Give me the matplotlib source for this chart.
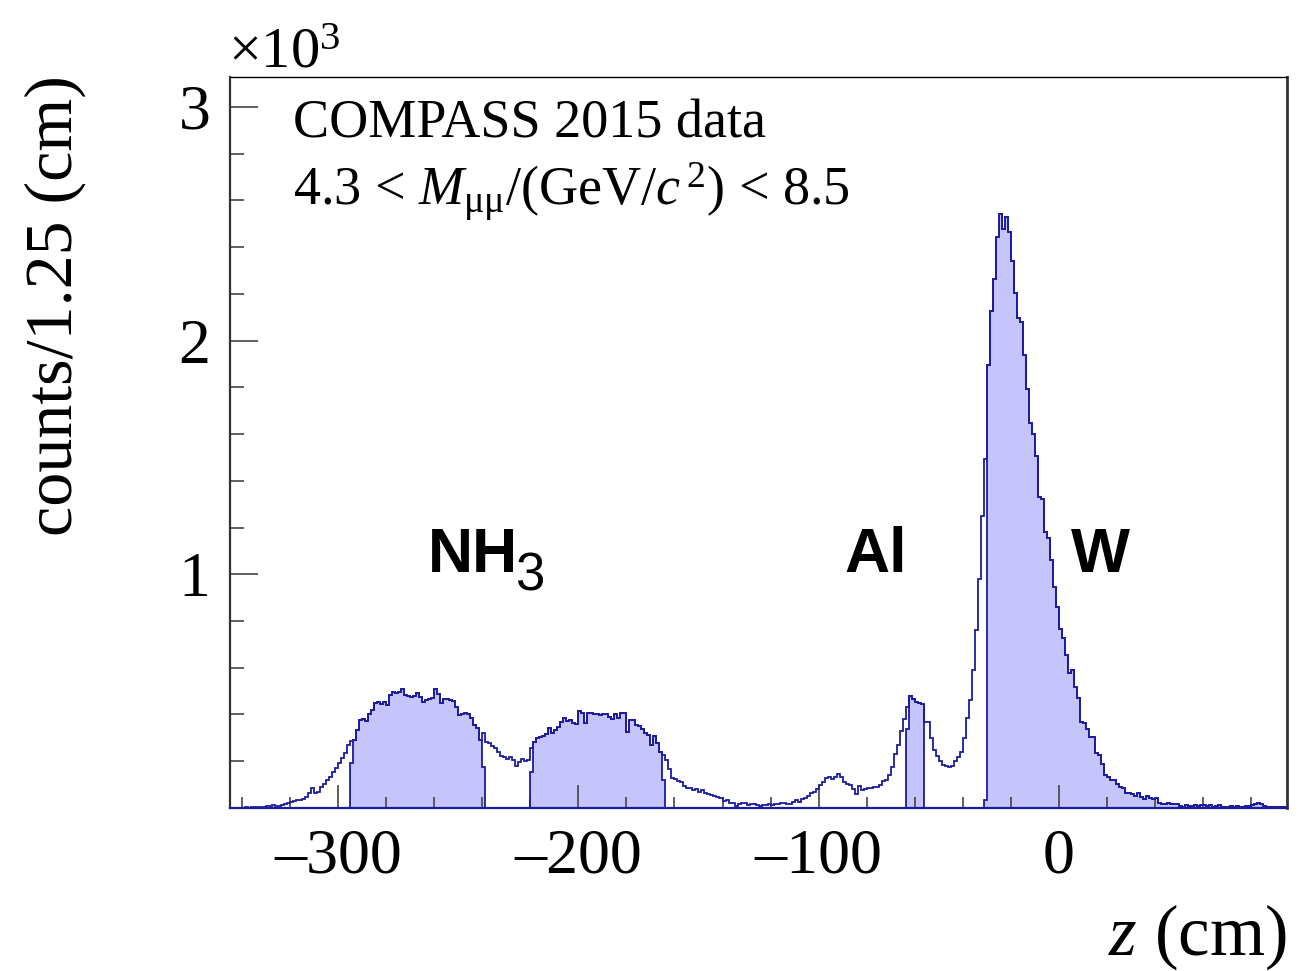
import numpy as np
import matplotlib
matplotlib.use("Agg")
import matplotlib.pyplot as plt
from matplotlib.ticker import MultipleLocator, FixedLocator

plt.rcParams["font.family"] = ["Liberation Serif", "DejaVu Serif"]
plt.rcParams["mathtext.fontset"] = "custom"
plt.rcParams["mathtext.rm"] = "Liberation Serif"
plt.rcParams["mathtext.it"] = "Liberation Serif:italic"
plt.rcParams["mathtext.bf"] = "Liberation Sans:bold"
plt.rcParams["mathtext.sf"] = "Liberation Sans"

# --- histogram: dimuon vertex z, 1.25 cm bins from -345 to 95 cm ---
z_lo, z_hi, bin_w = -345.0, 95.0, 1.25
counts = np.array([
    0, 1, 0, 2, 1, 3, 2, 4, 3, 5,
    6, 4, 7, 8, 12, 9, 8, 11, 18, 22,
    27, 30, 34, 36, 38, 45, 62, 84, 66, 68,
    88, 103, 120, 132, 152, 172, 192, 212, 236, 270,
    288, 292, 335, 376, 380, 372, 400, 420, 448, 455,
    446, 452, 440, 482, 497, 490, 497, 508, 484, 478,
    476, 478, 492, 475, 453, 462, 466, 470, 510, 486,
    450, 466, 465, 462, 456, 433, 398, 402, 408, 404,
    384, 355, 341, 291, 320, 284, 276, 265, 257, 240,
    222, 216, 210, 217, 205, 181, 198, 210, 201, 205,
    255, 284, 300, 305, 310, 315, 341, 322, 335, 348,
    369, 383, 372, 376, 362, 360, 416, 405, 362, 405,
    405, 402, 400, 398, 402, 400, 390, 380, 400, 385,
    405, 405, 327, 376, 378, 355, 350, 340, 319, 312,
    270, 310, 278, 240, 228, 205, 168, 128, 122, 116,
    113, 95, 86, 84, 78, 82, 70, 76, 64, 58,
    56, 51, 48, 42, 30, 34, 22, 20, 10, 17,
    20, 20, 13, 17, 17, 13, 9, 13, 13, 17,
    13, 17, 17, 22, 20, 18, 17, 25, 34, 26,
    38, 44, 52, 62, 70, 80, 98, 112, 128, 132,
    124, 134, 146, 132, 112, 104, 98, 82, 58, 92,
    76, 80, 84, 86, 88, 90, 100, 115, 120, 140,
    175, 230, 270, 330, 380, 430, 480, 465, 455, 448,
    445, 370, 366, 300, 250, 222, 200, 186, 178, 174,
    178, 200, 218, 241, 300, 385, 460, 590, 760, 980,
    1250, 1495, 1895, 2127, 2264, 2445, 2540, 2476, 2530, 2466,
    2342, 2202, 2098, 2078, 1938, 1793, 1646, 1599, 1506, 1331,
    1322, 1181, 1156, 1063, 947, 861, 764, 726, 655, 576,
    590, 519, 469, 369, 365, 340, 302, 302, 237, 227,
    188, 141, 134, 120, 120, 103, 91, 84, 66, 63,
    60, 51, 63, 46, 37, 51, 41, 37, 41, 23,
    19, 17, 23, 19, 17, 17, 9, 6, 13, 9,
    9, 13, 9, 13, 13, 9, 13, 6, 9, 13,
    3, 3, 6, 9, 6, 9, 3, 6, 9, 9,
    13, 17, 22, 19, 9, 3, 5, 3, 3, 3,
    3, 3,
], dtype=float)

# target cuts (z ranges) and the partially accepted edge bins
cut_lo = [-295.0, -220.0, -63.75, -31.25]
cut_hi = [-238.75, -163.75, -56.25, 95.0]
edge_first = [191, 153, 340, 35]
edge_last = [177, 120, 445, 3]

target_names = ["NH", "Al", "W"]
target_z = [-262.5, -89.2, 5.2]

line_col = "#1c1c9e"
fill_col = "#c5c5fb"

edges = z_lo + bin_w * np.arange(len(counts) + 1)

fig = plt.figure(figsize=(13.04, 9.71), dpi=100)
ax = fig.add_axes([0.1764, 0.1679, 0.8106, 0.7528])

# filled (accepted) regions
for lo, hi, f0, f1 in zip(cut_lo, cut_hi, edge_first, edge_last):
    i0 = int(round((lo - z_lo) / bin_w))
    i1 = int(round((hi - z_lo) / bin_w))
    vals = counts[i0:i1].copy()
    vals[0] = f0
    vals[-1] = f1
    ax.stairs(vals, edges[i0:i1 + 1], fill=True, facecolor=fill_col,
              edgecolor="none", lw=0, zorder=1)
    ax.stairs(vals, edges[i0:i1 + 1], color=line_col, lw=1.3, zorder=2)

# full distribution
ax.stairs(counts, edges, color=line_col, lw=1.3, baseline=None, zorder=3)

ax.set_xlim(z_lo, z_hi)
ax.set_ylim(0, 3128)

ax.xaxis.set_major_locator(FixedLocator([-300, -200, -100, 0]))
ax.xaxis.set_minor_locator(MultipleLocator(20))
ax.yaxis.set_major_locator(FixedLocator([0, 1000, 2000, 3000]))
ax.yaxis.set_minor_locator(MultipleLocator(200))
ax.set_yticklabels(["", "1", "2", "3"])
ax.set_xticklabels(["\u2013300", "\u2013200", "\u2013100", "0"])

ax.tick_params(axis="x", which="major", direction="in", length=16.5, width=1.2,
               color="#444444", labelsize=46, pad=15)
ax.tick_params(axis="x", which="minor", direction="in", length=8, width=1.2,
               color="#444444")
ax.tick_params(axis="y", which="major", direction="in", length=20, width=1.2,
               color="#444444", labelsize=46, pad=14)
ax.tick_params(axis="y", which="minor", direction="in", length=10, width=1.2,
               color="#444444")
ax.tick_params(top=False, right=False, which="both")

ax.spines["bottom"].set_color(line_col)
ax.spines["bottom"].set_linewidth(1.6)
ax.spines["left"].set_color("#333333")
ax.spines["left"].set_linewidth(1.6)
ax.spines["right"].set_color("#333333")
ax.spines["right"].set_linewidth(2.0)
ax.spines["top"].set_color("black")
ax.spines["top"].set_linewidth(1.0)
for s in ax.spines.values():
    s.set_zorder(4)

# labels
fig.text(55 / 1304, 1 - 75 / 971, "counts/1.25 (cm)", rotation=90,
         ha="center", va="top", fontsize=49)
fig.text(1287 / 1304, 1 - 955 / 971, r"$z$ (cm)", ha="right",
         va="baseline", fontsize=51)
fig.text(228 / 1304, 1 - 68 / 971, r"$\times$10$^{3}$", ha="left",
         va="baseline", fontsize=42)

ax.text(0.0596, 0.9166, "COMPASS 2015 data", transform=ax.transAxes,
        ha="left", va="baseline", fontsize=39)
ax.text(0.0596, 0.825, r"4.3 < $M_{\mathrm{\mu\mu}}$/(GeV/$c^{\,2}$) < 8.5",
        transform=ax.transAxes, ha="left", va="baseline", fontsize=39)

for name, zx in zip(target_names, target_z):
    ax.text(zx, 1010, name, ha="left", va="baseline", fontsize=45,
            family="Liberation Sans", weight="bold")
ax.text(-226.5, 930, "3", ha="left", va="baseline", fontsize=38,
        family="Liberation Sans")

fig.savefig("out.png", dpi=100)
